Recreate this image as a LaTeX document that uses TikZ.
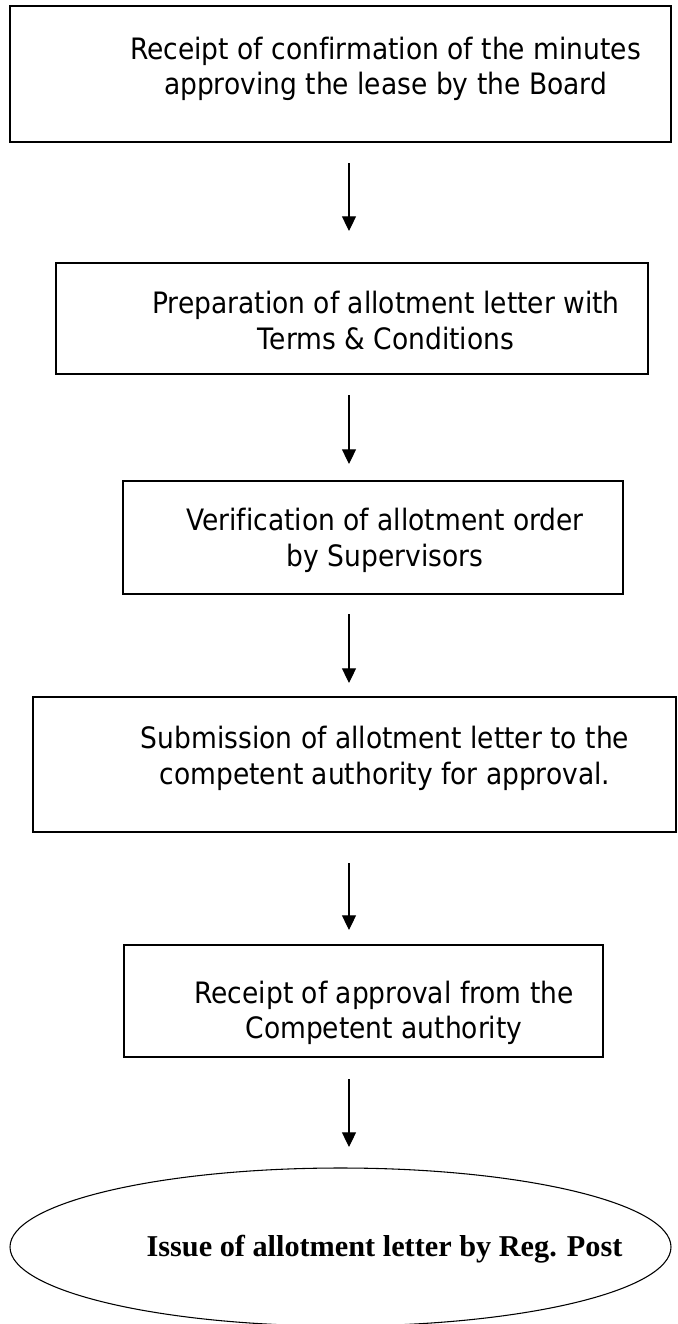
\documentclass[tikz,border=0pt]{standalone}
\usepackage{fontspec}
\usetikzlibrary{arrows.meta,fit,shapes.geometric}
\newfontfamily\tah{DejaVu Sans}[FakeStretch=0.9,Ligatures=NoCommon]
\newfontfamily\tnr{Liberation Serif}
\begin{document}
\begin{tikzpicture}[x=0.75pt,y=-0.75pt,
  stepbox/.style={draw,line width=1pt,inner sep=0pt},
  lbl/.style={anchor=base,inner sep=0pt,font=\tah\fontsize{22.1pt}{27pt}\selectfont},
  endlbl/.style={anchor=base,inner sep=0pt,font=\tnr\bfseries\fontsize{22.7pt}{27pt}\selectfont},
  flow/.style={line width=0.8pt,-{Triangle[width=10.5pt,length=11pt]}}]
\useasboundingbox (0,0) rectangle (678,1324);
\fill[white] (0,0) rectangle (678,1324);
% boxes
\node[stepbox,fit={(10,6) (671,142)}] (b1) {};
\node[stepbox,fit={(56,263) (648,374)}] (b2) {};
\node[stepbox,fit={(123,481) (623,594)}] (b3) {};
\node[stepbox,fit={(33,697) (676,832)}] (b4) {};
\node[stepbox,fit={(124,945) (603,1057)}] (b5) {};
\node[draw,ellipse,line width=0.8pt,inner sep=0pt,minimum width=495.75pt,minimum height=118.5pt] (e) at (340.5,1247) {};
% texts
\node[lbl] (t1a) at (385.5,59) {Receipt of confirmation of the minutes};
\node[lbl] (t1b) at (385.5,94) {approving the lease by the Board};
\node[lbl] (t2a) at (386,313) {Preparation of allotment letter with};
\node[lbl] (t2b) at (386,349) {Terms \& Conditions};
\node[lbl] (t3a) at (385,530) {Verification of allotment order};
\node[lbl] (t3b) at (385,566) {by Supervisors};
\node[lbl] (t4a) at (385,748) {Submission of allotment letter to the};
\node[lbl] (t4b) at (385,784) {competent authority for approval.};
\node[lbl] (t5a) at (384,1003) {Receipt of approval from the};
\node[lbl] (t5b) at (384,1038) {Competent authority};
\node[endlbl] (t6) at (384.5,1256) {Issue of allotment letter by Reg. Post};
% arrows
\coordinate (a1s) at (349,163); \coordinate (a1e) at (349,231);
\coordinate (a2s) at (349,395); \coordinate (a2e) at (349,464);
\coordinate (a3s) at (349,614); \coordinate (a3e) at (349,683);
\coordinate (a4s) at (349,863); \coordinate (a4e) at (349,930);
\coordinate (a5s) at (349,1079); \coordinate (a5e) at (349,1147);
\draw[flow] (a1s) -- (a1e);
\draw[flow] (a2s) -- (a2e);
\draw[flow] (a3s) -- (a3e);
\draw[flow] (a4s) -- (a4e);
\draw[flow] (a5s) -- (a5e);
\end{tikzpicture}
\end{document}
